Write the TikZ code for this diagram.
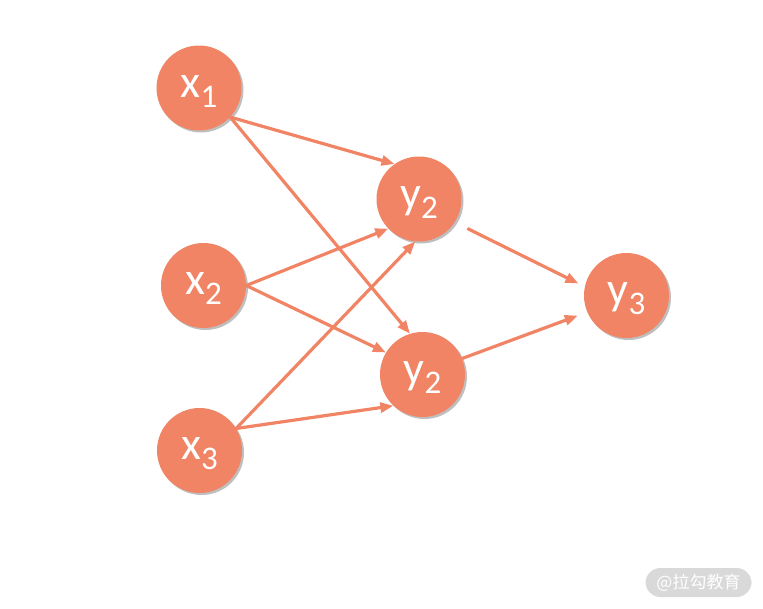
\documentclass[tikz,border=0pt]{standalone}
\usepackage{fontspec}
\setmainfont{Carlito}
\newfontfamily\cjk{Noto Sans CJK SC}
\usetikzlibrary{arrows.meta}
\usetikzlibrary{shadows}

\definecolor{neuron}{RGB}{240,132,100}
\definecolor{mark}{RGB}{217,217,217}

\newcommand{\unit}[2]{#1\raisebox{-10pt}{\fontsize{33}{33}\selectfont #2}}

\tikzset{
  neuron/.style={circle, fill=neuron, minimum size=85pt, inner sep=0pt,
    text=white, font=\fontsize{46}{46}\selectfont, text height=28pt, text depth=10pt,
    drop shadow={shadow xshift=2pt, shadow yshift=-2pt, opacity=0.25, fill=black}},
  link/.style={draw=neuron, line width=3.2pt, -{Triangle[length=13pt,width=10pt]}}
}

\begin{document}
\begin{tikzpicture}[x=1pt, y=-1pt]
            \useasboundingbox (0,0) rectangle (763,608);

            \node[neuron] (x1) at (199,88) {\unit{x}{1}};
            \node[neuron] (x2) at (203.5,285.5) {\unit{x}{2}};
            \node[neuron] (x3) at (199.5,450.5) {\unit{x}{3}};
            \node[neuron] (h1) at (419,199) {\unit{y}{2}};
            \node[neuron] (h2) at (422.5,374.5) {\unit{y}{2}};
            \node[neuron] (out) at (626.5,295.5) {\unit{y}{3}};

            \draw[link] (x1.-43) to (h1.125);
            \draw[link] (x1.-43) to (h2.107);
            \draw[link] (x2.0) to (h1.224);
            \draw[link] (x2.0) to (h2.149);
            \draw[link] (x3.31) to (h1.265);
            \draw[link] (x3.31) to (h2.227);
            \draw[link, shorten <=14pt, shorten >=7pt] (h1.-33) to (out.168);
            \draw[link, shorten >=10pt] (h2.22) to (out.203);

            \node[fill=mark, rounded corners=15pt, minimum width=106pt, minimum height=29pt,
              text=white, font=\cjk\fontsize{17}{17}\selectfont] (logo) at (698.5,582.5) {@拉勾教育};
        \end{tikzpicture}
\end{document}
